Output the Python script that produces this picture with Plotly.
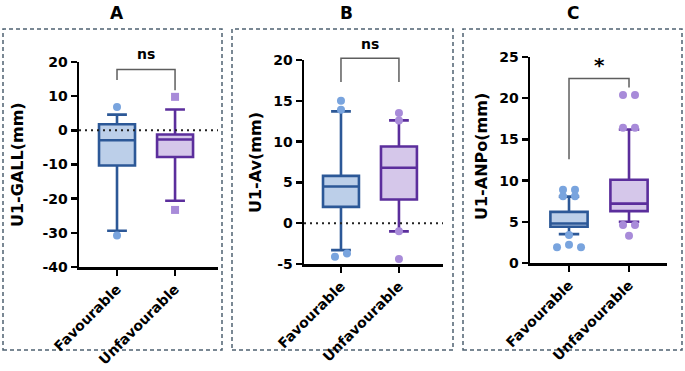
import plotly.graph_objects as go

W, H = 685, 371

# ---------------- data ----------------
categories = ["Favourable", "Unfavourable"]

# box stats: [lower whisker, Q1, median, Q3, upper whisker]
a_fav = [-29.4, -10.3, -2.9, 1.8, 4.6]
a_unfav = [-20.6, -7.8, -2.7, -1.2, 6.1]
a_fav_out = [6.8, -30.8]
a_unfav_out = [9.8, -23.3]
a_ticks = [-40, -30, -20, -10, 0, 10, 20]
a_ticklabels = ["-40", "-30", "-20", "-10", "0", "10", "20"]
a_bracket = [14.7, 17.8, 11.7]  # left leg end, bar, right leg end
a_sig = "ns"
a_sig_y = 22.2

b_fav = [-3.3, 2.0, 4.5, 5.8, 13.7]
b_unfav = [-1.0, 2.9, 6.8, 9.4, 12.6]
b_fav_out = [15.0, 13.9, -4.1, -3.7]
b_unfav_out = [13.5, 12.6, -1.0, -4.4]
b_ticks = [-5, 0, 5, 10, 15, 20]
b_ticklabels = ["-5", "0", "5", "10", "15", "20"]
b_bracket = [17.3, 20.2, 17.3]
b_sig = "ns"
b_sig_y = 21.9

c_fav = [3.5, 4.4, 4.8, 6.2, 8.05]
c_unfav = [5.0, 6.3, 7.2, 10.1, 16.2]
c_fav_out = [8.9, 8.9, 8.1, 8.1, 3.4, 1.9, 2.2, 1.9]
c_unfav_out = [20.4, 20.4, 16.4, 16.4, 4.6, 4.6, 3.3]
c_ticks = [0, 5, 10, 15, 20, 25]
c_ticklabels = ["0", "5", "10", "15", "20", "25"]
c_bracket = [12.6, 22.4, 21.3]
c_sig = "*"
c_sig_y = 24.0

panel_titles = ["A", "B", "C"]
y_titles = ["U1-GALL(mm)", "U1-Av(mm)", "U1-ANPo(mm)"]

# ---------------- style / layout ----------------
FAV_LINE, FAV_FILL, FAV_DOT = "#2c5897", "#bccfe9", "#79a4de"
UNF_LINE, UNF_FILL, UNF_DOT = "#5b2e9c", "#d5c7ea", "#a88bd9"
FONT = "DejaVu Sans"

panels = [
    dict(data=(a_fav, a_unfav, a_fav_out, a_unfav_out), ticks=(a_ticks, a_ticklabels),
         yrange=(-40, 20), xpx=(79, 218), ypx=(62, 267), xrange=(-0.655, 1.74),
         bracket=a_bracket, sig=a_sig, sig_y=a_sig_y, zero=True, unf_symbol="square",
         title_xy=(117, 13), ytitle_xy=(17, 165), border=(3, 222)),
    dict(data=(b_fav, b_unfav, b_fav_out, b_unfav_out), ticks=(b_ticks, b_ticklabels),
         yrange=(-5, 20), xpx=(304, 443), ypx=(60, 264), xrange=(-0.638, 1.76),
         bracket=b_bracket, sig=b_sig, sig_y=b_sig_y, zero=True, unf_symbol="circle",
         title_xy=(346, 13), ytitle_xy=(255, 163), border=(232, 453)),
    dict(data=(c_fav, c_unfav, c_fav_out, c_unfav_out), ticks=(c_ticks, c_ticklabels),
         yrange=(0, 25), xpx=(530, 667), ypx=(57, 263), xrange=(-0.65, 1.633),
         bracket=c_bracket, sig=c_sig, sig_y=c_sig_y, zero=False, unf_symbol="circle",
         title_xy=(573, 13), ytitle_xy=(482, 157), border=(463, 682)),
]

EXT_TOP = 30  # top pixel of annotation overlay area


def swarm_offsets(values, px_per_y, px_per_x, thr=5.5, spacing=12):
    rows = []  # list of (anchor, [indices])
    for i, v in enumerate(values):
        for anchor, idx in rows:
            if abs(v - anchor) * px_per_y < thr:
                idx.append(i)
                break
        else:
            rows.append((v, [i]))
    offs = [0.0] * len(values)
    for _, idx in rows:
        n = len(idx)
        for k, i in enumerate(idx):
            offs[i] = (k - (n - 1) / 2) * spacing / px_per_x
    return offs


def sfx(n):
    return "" if n == 1 else str(n)


fig = go.Figure()
layout = dict(width=W, height=H, margin=dict(l=0, r=0, t=0, b=0, pad=0), autosize=False,
              template="none",
              paper_bgcolor="white", plot_bgcolor="rgba(0,0,0,0)",
              showlegend=False, font=dict(family=FONT, color="black"))
shapes, annotations = [], []

for i, p in enumerate(panels):
    n = i + 1
    no = i + 4
    xs, ys = "x" + sfx(n), "y" + sfx(n)
    xo, yo = "x" + sfx(no), "y" + sfx(no)
    x0p, x1p = p["xpx"]
    ytp, ybp = p["ypx"]
    ymin, ymax = p["yrange"]
    px_per_y = (ybp - ytp) / (ymax - ymin)
    px_per_x = (x1p - x0p) / (p["xrange"][1] - p["xrange"][0])
    xdom = [x0p / W, x1p / W]
    ydom = [1 - ybp / H, 1 - ytp / H]
    ext_top = ymax + (ytp - EXT_TOP) / px_per_y
    ydom_o = [1 - ybp / H, 1 - EXT_TOP / H]

    tv, tt = p["ticks"]
    layout["xaxis" + sfx(n)] = dict(domain=xdom, range=list(p["xrange"]), anchor=ys,
                               automargin=False,
                               showline=True, linecolor="black", linewidth=2.5,
                               ticks="outside", ticklen=6, tickwidth=2.5, tickcolor="black",
                               tickvals=[0, 1], ticktext=categories, tickangle=-45,
                               tickfont=dict(family=FONT, size=14, color="black", weight="bold"),
                               showgrid=False, zeroline=False, fixedrange=True)
    layout["yaxis" + sfx(n)] = dict(domain=ydom, range=[ymin, ymax], anchor=xs,
                               automargin=False,
                               showline=True, linecolor="black", linewidth=2.5,
                               ticks="outside", ticklen=6, tickwidth=2.5, tickcolor="black",
                               tickvals=tv, ticktext=tt,
                               tickfont=dict(family=FONT, size=14, color="black", weight="bold"),
                               showgrid=False, zeroline=False, fixedrange=True)
    layout["xaxis" + sfx(no)] = dict(domain=xdom, range=list(p["xrange"]), anchor=yo, visible=False,
                                automargin=False, fixedrange=True)
    layout["yaxis" + sfx(no)] = dict(domain=ydom_o, range=[ymin, ext_top], anchor=xo, visible=False,
                                automargin=False, fixedrange=True)

    fav, unf, fav_out, unf_out = p["data"]
    for pos, st, lc, fc in [(0, fav, FAV_LINE, FAV_FILL), (1, unf, UNF_LINE, UNF_FILL)]:
        fig.add_trace(go.Box(x=[pos], lowerfence=[st[0]], q1=[st[1]], median=[st[2]],
                             q3=[st[3]], upperfence=[st[4]], width=0.62, whiskerwidth=0.55,
                             fillcolor=fc, line=dict(color=lc, width=2.6), boxpoints=False,
                             xaxis=xs, yaxis=ys, hoverinfo="skip"))
    for pos, vals, col, sym in [(0, fav_out, FAV_DOT, "circle"), (1, unf_out, UNF_DOT, p["unf_symbol"])]:
        offs = swarm_offsets(vals, px_per_y, px_per_x)
        fig.add_trace(go.Scatter(x=[pos + o for o in offs], y=vals, mode="markers",
                                 marker=dict(color=col, size=8, symbol=sym, line=dict(width=0)),
                                 xaxis=xs, yaxis=ys, cliponaxis=False, hoverinfo="skip"))

    bl, btop, br = p["bracket"]
    fig.add_trace(go.Scatter(x=[0, 0, 1, 1], y=[bl, btop, btop, br], mode="lines",
                             line=dict(color="#5e5e5e", width=1.5),
                             xaxis=xo, yaxis=yo, hoverinfo="skip"))
    sig_size = 20 if p["sig"] == "*" else 14
    annotations.append(dict(x=0.5, y=p["sig_y"], xref=xo, yref=yo, text=p["sig"],
                            showarrow=False, xanchor="center", yanchor="middle",
                            font=dict(family=FONT, size=sig_size, color="black", weight="bold")))

    if p["zero"]:
        shapes.append(dict(type="line", xref=xs + " domain", x0=0, x1=1, yref=ys, y0=0, y1=0,
                           line=dict(color="#222222", width=2, dash="2px,4px"), layer="above"))

    bx0, bx1 = p["border"]
    shapes.append(dict(type="rect", xref="paper", yref="paper", x0=bx0 / W, x1=bx1 / W,
                       y0=1 - 350 / H, y1=1 - 29 / H,
                       line=dict(color="#4f6272", width=1.5, dash="4px,3px"),
                       fillcolor="rgba(0,0,0,0)", layer="below"))

    tx, ty = p["title_xy"]
    annotations.append(dict(x=tx / W, y=1 - ty / H, xref="paper", yref="paper",
                            text=panel_titles[i], showarrow=False, xanchor="center",
                            yanchor="middle",
                            font=dict(family=FONT, size=17, color="black", weight="bold")))
    yx, yy = p["ytitle_xy"]
    annotations.append(dict(x=yx / W, y=1 - yy / H, xref="paper", yref="paper",
                            text=y_titles[i], showarrow=False, textangle=-90,
                            xanchor="center", yanchor="middle",
                            font=dict(family=FONT, size=16, color="black", weight="bold")))

layout["shapes"] = shapes
layout["annotations"] = annotations
fig.update_layout(**layout)
fig.write_html("out.html", config={"displayModeBar": False, "staticPlot": True},
               post_script="document.body.style.margin='0px';")
